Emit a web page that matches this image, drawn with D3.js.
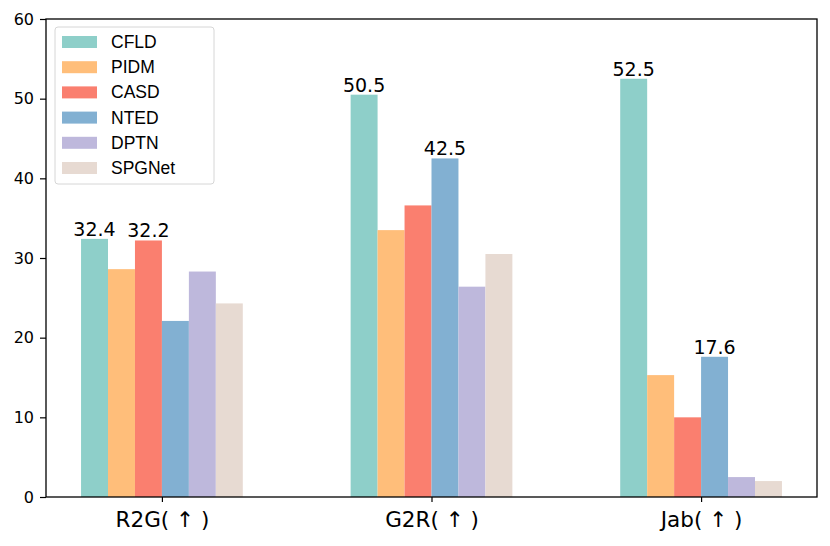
<!DOCTYPE html>
<html>
<head>
<meta charset="utf-8">
<script src="https://cdn.jsdelivr.net/npm/d3@7"></script>
<style>
  body { margin: 0; background: #fff; }
  svg { display: block; }
</style>
</head>
<body>
<svg></svg>
<script>
const tasks = ["R2G( \u2191 )", "G2R( \u2191 )", "Jab( \u2191 )"];
const methods = ["CFLD", "PIDM", "CASD", "NTED", "DPTN", "SPGNet"];
const colors = ["#8ecfc9", "#ffbe7a", "#fa7f6f", "#82b0d2", "#beb8dc", "#e7dad2"];

const cfld = [32.4, 50.5, 52.5];
const pidm = [28.6, 33.5, 15.3];
const casd = [32.2, 36.6, 10.0];
const nted = [22.1, 42.5, 17.6];
const dptn = [28.3, 26.4, 2.5];
const spgnet = [24.3, 30.5, 2.0];

// which bars get a value label: [method index, task index]
const labelled = [[0, 0], [2, 0], [0, 1], [3, 1], [0, 2], [3, 2]];

const yTicks = [0, 10, 20, 30, 40, 50, 60];

const series = [cfld, pidm, casd, nted, dptn, spgnet];

const drawChart = () => {
  const svg = d3.select("svg").attr("width", 830).attr("height", 546);

  const margin = { top: 19, right: 13, bottom: 49, left: 46 };
  const width = +svg.attr("width");
  const height = +svg.attr("height");
  const innerWidth = width - margin.left - margin.right;
  const innerHeight = height - margin.top - margin.bottom;

  const barW = 0.1;

  const xScale = d3.scaleLinear().domain([-0.43, 2.43]).range([0, innerWidth]);
  const yScale = d3.scaleLinear().domain([0, 60]).range([innerHeight, 0]);

  const g = svg.append("g").attr("transform", `translate(${margin.left}, ${margin.top})`);

  const bars = [];
  series.forEach((vals, m) => {
    vals.forEach((v, t) => {
      bars.push({ m, t, v, x: t + (m - 2.5) * barW });
    });
  });

  g.selectAll("rect.bar")
    .data(bars)
    .enter()
    .append("rect")
    .attr("class", "bar")
    .attr("x", (d) => xScale(d.x - barW / 2))
    .attr("width", (d) => xScale(d.x + barW / 2) - xScale(d.x - barW / 2))
    .attr("y", (d) => yScale(d.v))
    .attr("height", (d) => innerHeight - yScale(d.v))
    .attr("fill", (d) => colors[d.m]);

  // value labels
  g.selectAll("text.val")
    .data(labelled.map(([m, t]) => bars.find((b) => b.m === m && b.t === t)))
    .enter()
    .append("text")
    .attr("class", "val")
    .attr("x", (d) => xScale(d.x))
    .attr("y", (d) => yScale(d.v) - 3)
    .attr("text-anchor", "middle")
    .style("font-family", "DejaVu Sans")
    .style("font-size", "19px")
    .text((d) => d.v.toFixed(1));

  // axes
  const yAxis = d3.axisLeft(yScale).tickValues(yTicks).tickSize(6).tickPadding(6);
  const yg = g.append("g").call(yAxis);
  yg.selectAll("text").style("font-family", "DejaVu Sans").style("font-size", "16px").attr("fill", "#000");
  yg.selectAll("line").attr("stroke-width", 1.2);
  yg.select(".domain").remove();

  const xAxis = d3.axisBottom(xScale).tickValues([0, 1, 2]).tickFormat((d) => tasks[d]).tickSize(5).tickPadding(10);
  const xg = g.append("g").attr("transform", `translate(0, ${innerHeight})`).call(xAxis);
  xg.selectAll("text").style("font-family", "DejaVu Sans").style("font-size", "21.5px").attr("fill", "#000");
  xg.selectAll("line").attr("stroke-width", 1.2);
  xg.select(".domain").remove();

  // frame
  g.append("rect")
    .attr("x", 0)
    .attr("y", 0)
    .attr("width", innerWidth)
    .attr("height", innerHeight)
    .attr("fill", "none")
    .attr("stroke", "#000")
    .attr("stroke-width", 1.3);

  // legend
  const lg = g.append("g").attr("transform", `translate(9, 8)`);
  lg.append("rect")
    .attr("width", 159)
    .attr("height", 157)
    .attr("rx", 3)
    .attr("fill", "#fff")
    .attr("fill-opacity", 0.8)
    .attr("stroke", "#d6d6d6");

  const items = lg.selectAll("g.item")
    .data(methods)
    .enter()
    .append("g")
    .attr("class", "item")
    .attr("transform", (d, i) => `translate(7, ${9 + i * 25.2})`);

  items.append("rect")
    .attr("width", 35)
    .attr("height", 12)
    .attr("fill", (d, i) => colors[i]);

  items.append("text")
    .attr("x", 49)
    .attr("y", 12)
    .style("font-family", "Liberation Sans, Arial")
    .style("font-size", "17.5px")
    .text((d) => d);
};

drawChart();
</script>
</body>
</html>
